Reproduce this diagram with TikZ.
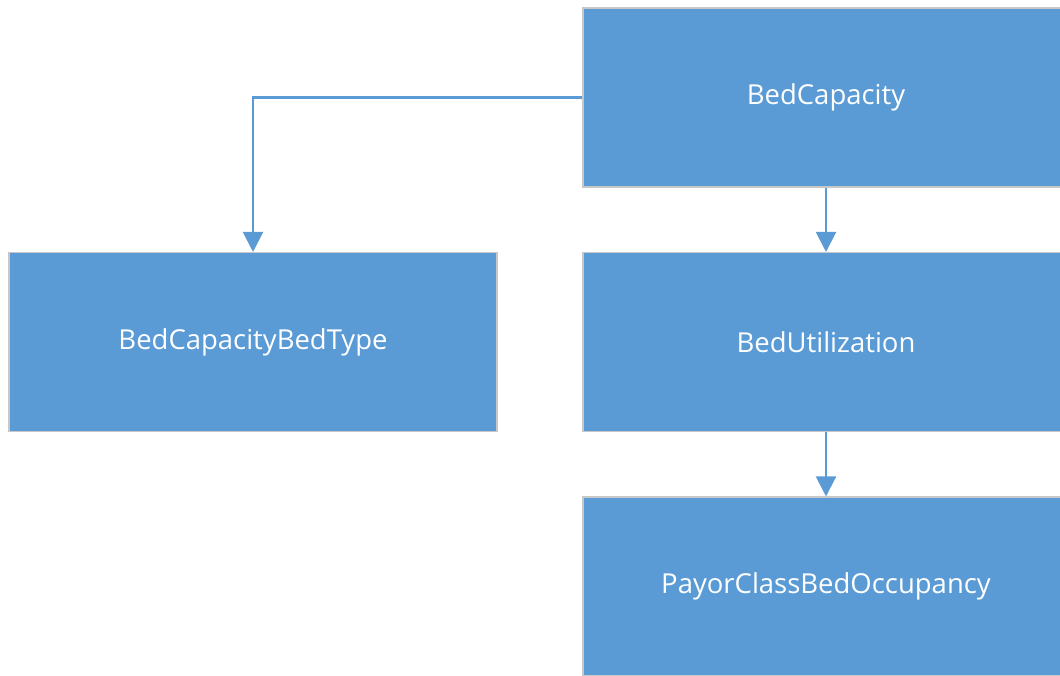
\documentclass[tikz,border=0pt]{standalone}
\usepackage{fontspec}
\setmainfont{Open Sans}
\usetikzlibrary{arrows.meta}
\definecolor{boxblue}{HTML}{5B9BD5}
\definecolor{boxedge}{HTML}{C8C8C8}
\begin{document}
\begin{tikzpicture}[x={(0.75pt,0)},y={(0,-0.75pt)},
  box/.style={rectangle,fill=boxblue,draw=boxedge,line width=0.8pt,
    minimum width=364.5pt,minimum height=134.25pt,inner sep=0pt,
    text=white,font=\fontsize{20.6}{24}\selectfont},
  link/.style={draw=boxblue,line width=1.6pt,-{Triangle[width=15pt,length=15pt]}}]
\useasboundingbox (0,0) rectangle (1060,675);
\clip (0,0) rectangle (1060,675);
\node[box] (bc) at (826,97.5) {BedCapacity};
\node[box] (bu) at (826,342) {BedUtilization};
\node[box] (po) at (826,586.5) {PayorClassBedOccupancy};
\node[box,minimum width=366pt] (bt) at (253,342) {BedCapacityBedType};
\draw[link] (bc.west) -| (bt.north);
\draw[link] (bc.south) -- (bu.north);
\draw[link] (bu.south) -- (po.north);
\end{tikzpicture}
\end{document}
